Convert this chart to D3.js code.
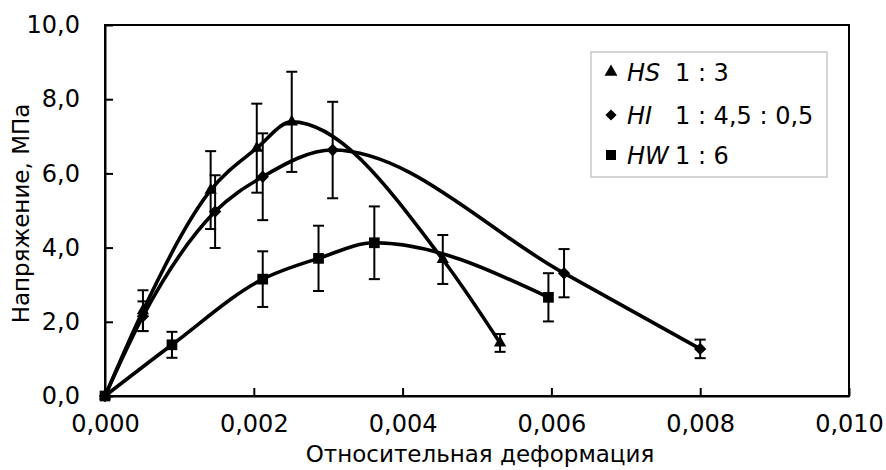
<!DOCTYPE html>
<html>
<head>
<meta charset="utf-8">
<script src="https://cdn.jsdelivr.net/npm/d3@7"></script>
<style>
  html, body { margin: 0; padding: 0; background: #fff; }
  svg { display: block; font-family: "DejaVu Sans", sans-serif; }
</style>
</head>
<body>
<svg id="chart" width="886" height="470"></svg>
<script>
// Stress–strain curves for three compositions, with error bars
const hsStrain = [0, 0.00051, 0.00142, 0.00204, 0.00251, 0.00454, 0.00531];
const hsStress = [0, 2.30, 5.55, 6.68, 7.39, 3.68, 1.43];
const hsError  = [0, 0.55, 1.05, 1.20, 1.35, 0.66, 0.24];

const hiStrain = [0, 0.00051, 0.00148, 0.00212, 0.00306, 0.00617, 0.0080];
const hiStress = [0, 2.15, 4.97, 5.91, 6.63, 3.31, 1.27];
const hiError  = [0, 0.40, 0.98, 1.17, 1.30, 0.65, 0.25];

const hwStrain = [0, 0.0009, 0.00212, 0.00287, 0.00362, 0.00596];
const hwStress = [0, 1.38, 3.15, 3.71, 4.13, 2.66];
const hwError  = [0, 0.35, 0.75, 0.88, 0.98, 0.65];

const seriesNames = ["HS", "HI", "HW"];
const seriesRatios = ["1 : 3", "1 : 4,5 : 0,5", "1 : 6"];
const seriesSymbols = [d3.symbolTriangle, d3.symbolDiamond2, d3.symbolSquare];
const markerArea = [66, 98, 115];
const legendMarkerArea = [72, 80, 100];

const xTicks = [0, 0.002, 0.004, 0.006, 0.008, 0.010];
const yTicks = [0, 2, 4, 6, 8, 10];
const xTitle = "Относительная деформация";
const yTitle = "Напряжение, МПа";

const svg = d3.select("#chart");
const plotL = 105, plotR = 849, plotT = 25, plotB = 396;

const x = d3.scaleLinear().domain([0, 0.010]).range([plotL, plotR]);
const y = d3.scaleLinear().domain([0, 10]).range([plotB, plotT]);

const fmt = d => d3.format(".3f")(d).replace(".", ",");
const fmtY = d => d3.format(".1f")(d).replace(".", ",");

// frame
svg.append("rect")
  .attr("x", plotL).attr("y", plotT)
  .attr("width", plotR - plotL).attr("height", plotB - plotT)
  .attr("fill", "none").attr("stroke", "#000").attr("stroke-width", 2);

// axes with inward ticks
const xAxis = svg.append("g").attr("transform", `translate(0,${plotB})`)
  .call(d3.axisBottom(x).tickValues(xTicks).tickFormat(fmt).tickSizeInner(-8).tickSizeOuter(0).tickPadding(19));
const yAxis = svg.append("g").attr("transform", `translate(${plotL},0)`)
  .call(d3.axisLeft(y).tickValues(yTicks).tickFormat(fmtY).tickSizeInner(-8).tickSizeOuter(0).tickPadding(25));
[xAxis, yAxis].forEach(g => {
  g.select(".domain").attr("stroke", "#000").attr("stroke-width", 2);
  g.selectAll(".tick line").attr("stroke", "#000").attr("stroke-width", 2);
  g.selectAll(".tick text").attr("fill", "#000")
    .style("font-family", "'DejaVu Sans', sans-serif").style("font-size", "24px");
});

svg.append("text")
  .attr("x", 480).attr("y", 462)
  .attr("text-anchor", "middle")
  .style("font-size", "23px")
  .text(xTitle);

svg.append("text")
  .attr("transform", `translate(29,${(plotT + plotB) / 2 + 3}) rotate(-90)`)
  .attr("text-anchor", "middle")
  .style("font-size", "23px")
  .text(yTitle);

const series = [
  { xs: hsStrain, ys: hsStress, es: hsError },
  { xs: hiStrain, ys: hiStress, es: hiError },
  { xs: hwStrain, ys: hwStress, es: hwError }
];

const line = d3.line()
  .x(d => x(d[0])).y(d => y(d[1]))
  .curve(d3.curveMonotoneX);

series.forEach((s, i) => {
  const pts = s.xs.map((v, k) => [v, s.ys[k], s.es[k]]);
  const g = svg.append("g");

  // error bars
  pts.filter(p => p[2] > 0).forEach(p => {
    const cx = x(p[0]), y1 = y(p[1] + p[2]), y2 = y(p[1] - p[2]);
    g.append("line").attr("x1", cx).attr("x2", cx).attr("y1", y1).attr("y2", y2)
      .attr("stroke", "#000").attr("stroke-width", 2);
    [y1, y2].forEach(yy => g.append("line")
      .attr("x1", cx - 5.5).attr("x2", cx + 5.5).attr("y1", yy).attr("y2", yy)
      .attr("stroke", "#000").attr("stroke-width", 2));
  });

  g.append("path").attr("d", line(pts))
    .attr("fill", "none").attr("stroke", "#000").attr("stroke-width", 3.6);

  g.selectAll("path.mk").data(pts).join("path")
    .attr("class", "mk")
    .attr("transform", p => `translate(${x(p[0])},${y(p[1])})`)
    .attr("d", d3.symbol().type(seriesSymbols[i]).size(markerArea[i]))
    .attr("fill", "#000");
});

// legend
const lg = svg.append("g");
lg.append("rect").attr("x", 591).attr("y", 52).attr("width", 236).attr("height", 125)
  .attr("fill", "#fff").attr("stroke", "#c8c8c8").attr("stroke-width", 1.5);
const rowsY = [72, 115, 155];
seriesNames.forEach((name, i) => {
  lg.append("path")
    .attr("transform", `translate(611,${rowsY[i]})`)
    .attr("d", d3.symbol().type(seriesSymbols[i]).size(legendMarkerArea[i]))
    .attr("fill", "#000");
  lg.append("text").attr("x", 627).attr("y", rowsY[i] + 9)
    .style("font-size", "24px").style("font-style", "italic").text(name);
  lg.append("text").attr("x", 675).attr("y", rowsY[i] + 9)
    .style("font-size", "24px").text(seriesRatios[i]);
});
</script>
</body>
</html>
